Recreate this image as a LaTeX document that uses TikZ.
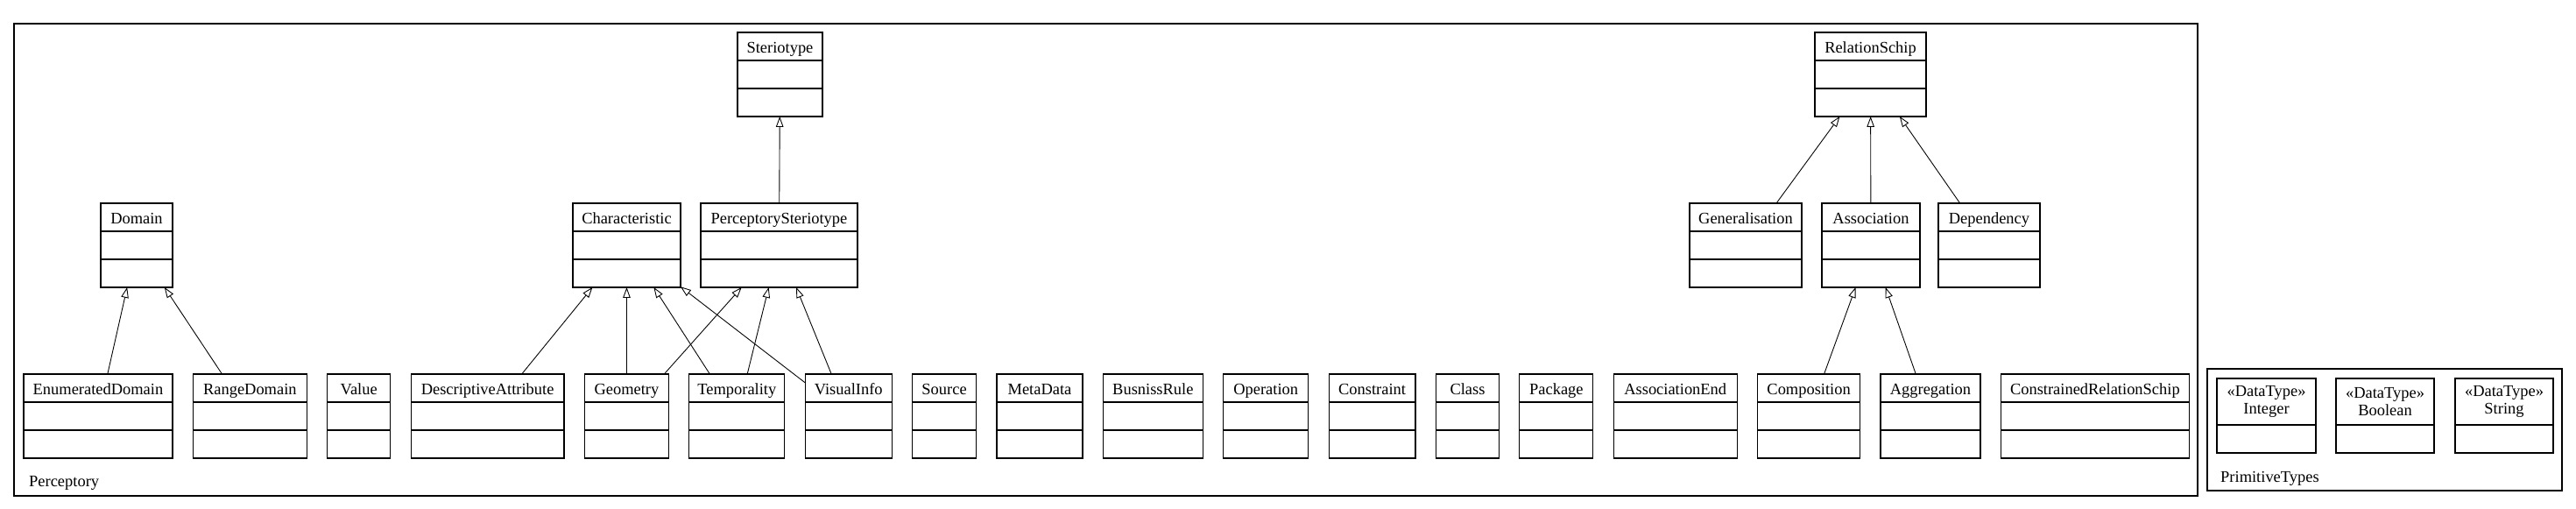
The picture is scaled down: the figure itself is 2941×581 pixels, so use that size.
\documentclass[tikz,border=0pt]{standalone}
\usepackage{fontspec}
\setmainfont{Liberation Serif}
\usetikzlibrary{positioning, arrows.meta, shapes.multipart, fit}
\newcommand{\cstrut}{\rule[-0.16cm]{0pt}{0.615cm}}
\newcommand{\cls}[1]{\cstrut #1\nodepart{two}\cstrut\nodepart{three}\cstrut}
\newcommand{\dtype}[1]{\parbox[c][1.035cm][c]{2.2cm}{\centering «DataType»\\#1}}
\tikzset{
x=0.02cm, y=-0.02cm, % one unit is one pixel of the drawing
node distance=0.468cm, % gap between the classes of the bottom row
class/.style={draw, line width=0.7pt, rectangle split, rectangle split parts=3,
  inner xsep=0pt, inner ysep=0pt, outer sep=0pt,
  rectangle split empty part height=0.615cm, rectangle split empty part depth=0pt,
  anchor=north west, font=\fontsize{10.5}{11}\selectfont}, % name, attributes, operations
datatype/.style={class, rectangle split parts=2}, % a primitive type
gen/.style={-{Triangle[open, length=0.24cm, width=0.17cm]}, line width=0.5pt}, % generalisation
package/.style={draw, line width=0.7pt, inner sep=0pt}, % a package frame
pkglabel/.style={anchor=base west, font=\fontsize{10.5}{11}\selectfont}, % name of a package
}

\begin{document}
\begin{tikzpicture}
\useasboundingbox (0,0) rectangle (2941,581);
\node[package, fit={(16,27) (2509,566)}] (perceptory) {};
\node[package, fit={(2520,421) (2925,560)}] (primitive) {};
\node[pkglabel] (perclabel) at (27,555) {Perceptory};
\node[pkglabel] (primlabel) at (2529,550) {PrimitiveTypes};

% upper classes
\node[class, minimum width=1.94cm] (ster) at (842,37) {\cls{Steriotype}};
\node[class, minimum width=2.54cm] (rel) at (2072,37) {\cls{RelationSchip}};
\node[class, minimum width=1.64cm] (dom) at (115,232) {\cls{Domain}};
\node[class, minimum width=2.46cm] (char) at (654,232) {\cls{Characteristic}};
\node[class, minimum width=3.58cm] (pster) at (800,232) {\cls{PerceptorySteriotype}};
\node[class, minimum width=2.56cm] (gener) at (1929,232) {\cls{Generalisation}};
\node[class, minimum width=2.24cm] (assoc) at (2080,232) {\cls{Association}};
\node[class, minimum width=2.32cm] (dep) at (2213,232) {\cls{Dependency}};

% bottom row
\node[class, minimum width=3.40cm] (enum) at (27,427) {\cls{EnumeratedDomain}};
\node[class, minimum width=2.60cm, right=of enum] (range) {\cls{RangeDomain}};
\node[class, minimum width=1.44cm, right=of range] (val) {\cls{Value}};
\node[class, minimum width=3.50cm, right=of val] (descr) {\cls{DescriptiveAttribute}};
\node[class, minimum width=1.92cm, right=of descr] (geom) {\cls{Geometry}};
\node[class, minimum width=2.18cm, right=of geom] (temp) {\cls{Temporality}};
\node[class, minimum width=1.98cm, right=of temp] (vis) {\cls{VisualInfo}};
\node[class, minimum width=1.46cm, right=of vis] (src) {\cls{Source}};
\node[class, minimum width=1.96cm, right=of src] (meta) {\cls{MetaData}};
\node[class, minimum width=2.28cm, right=of meta] (rule) {\cls{BusnissRule}};
\node[class, minimum width=1.94cm, right=of rule] (oper) {\cls{Operation}};
\node[class, minimum width=1.98cm, right=of oper] (constr) {\cls{Constraint}};
\node[class, minimum width=1.44cm, right=of constr] (cl) {\cls{Class}};
\node[class, minimum width=1.68cm, right=of cl] (pack) {\cls{Package}};
\node[class, minimum width=2.82cm, right=of pack] (aend) {\cls{AssociationEnd}};
\node[class, minimum width=2.34cm, right=of aend] (comp) {\cls{Composition}};
\node[class, minimum width=2.28cm, right=of comp] (aggr) {\cls{Aggregation}};
\node[class, minimum width=4.30cm, right=of aggr] (crel) {\cls{ConstrainedRelationSchip}};

% primitive types
\node[datatype, minimum width=2.26cm] (int) at (2531,432) {\dtype{Integer}\nodepart{two}\cstrut};
\node[datatype, minimum width=2.24cm] (bool) at (2667,432) {\dtype{Boolean}\nodepart{two}\cstrut};
\node[datatype, minimum width=2.24cm] (str) at (2803,432) {\dtype{String}\nodepart{two}\cstrut};

\draw[gen] (enum) -- (dom);
\draw[gen] (range) -- (dom);
\draw[gen] (descr) -- (char);
\draw[gen] (geom) -- (char);
\draw[gen] (temp) -- (char);
\draw[gen] (vis) -- (char);
\draw[gen] (geom) -- (pster);
\draw[gen] (temp) -- (pster);
\draw[gen] (vis) -- (pster);
\draw[gen] (pster) -- (ster);
\draw[gen] (gener) -- (rel);
\draw[gen] (assoc) -- (rel);
\draw[gen] (dep) -- (rel);
\draw[gen] (comp) -- (assoc);
\draw[gen] (aggr) -- (assoc);
\end{tikzpicture}
\end{document}
